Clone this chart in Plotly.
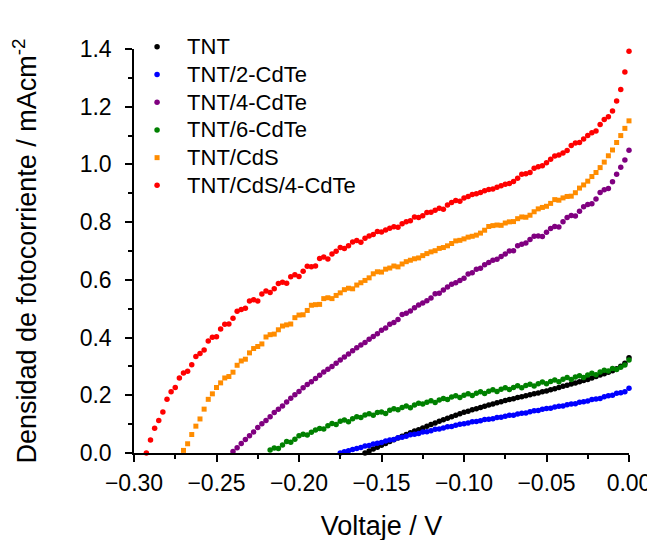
import plotly.graph_objects as go

V_STEP = 0.0025  # voltage sweep step (V); every series ends at 0.00 V

NAMES = ["TNT", "TNT/2-CdTe", "TNT/4-CdTe", "TNT/6-CdTe", "TNT/CdS", "TNT/CdS/4-CdTe"]
COLORS = ["#000000", "#0000FF", "#800080", "#008000", "#FF8C00", "#FF0000"]
SYMBOLS = ["circle", "circle", "circle", "circle", "square", "circle"]

tnt = [
    0.000, 0.007, 0.014, 0.020, 0.027, 0.033, 0.040, 0.046, 0.052, 0.058,
    0.064, 0.070, 0.076, 0.081, 0.087, 0.093, 0.099, 0.104, 0.110, 0.115,
    0.120, 0.126, 0.131, 0.136, 0.141, 0.145, 0.150, 0.153, 0.158, 0.162,
    0.166, 0.170, 0.174, 0.178, 0.182, 0.185, 0.188, 0.192, 0.195, 0.198,
    0.202, 0.205, 0.208, 0.212, 0.215, 0.219, 0.223, 0.227, 0.231, 0.235,
    0.239, 0.243, 0.247, 0.251, 0.255, 0.260, 0.265, 0.270, 0.275, 0.280,
    0.285, 0.292, 0.301, 0.311, 0.330,
]

tnt_2cdte = [
    0.000, 0.004, 0.008, 0.012, 0.016, 0.019, 0.024, 0.026, 0.031, 0.034,
    0.036, 0.042, 0.045, 0.047, 0.053, 0.055, 0.058, 0.063, 0.065, 0.068,
    0.073, 0.074, 0.077, 0.082, 0.083, 0.087, 0.091, 0.092, 0.096, 0.100,
    0.101, 0.104, 0.108, 0.109, 0.112, 0.116, 0.117, 0.119, 0.123, 0.124,
    0.127, 0.131, 0.131, 0.135, 0.138, 0.139, 0.143, 0.146, 0.147, 0.152,
    0.154, 0.155, 0.159, 0.162, 0.163, 0.167, 0.170, 0.171, 0.176, 0.178,
    0.180, 0.185, 0.187, 0.189, 0.195, 0.198, 0.200, 0.207, 0.209, 0.212,
    0.224,
]

tnt_4cdte = [
    0.005, 0.018, 0.033, 0.047, 0.060, 0.073, 0.088, 0.101, 0.113, 0.126,
    0.140, 0.152, 0.163, 0.177, 0.190, 0.202, 0.213, 0.226, 0.237, 0.247,
    0.258, 0.269, 0.281, 0.290, 0.300, 0.311, 0.322, 0.333, 0.343, 0.354,
    0.365, 0.374, 0.383, 0.394, 0.404, 0.413, 0.425, 0.433, 0.446, 0.452,
    0.463, 0.480, 0.484, 0.492, 0.503, 0.513, 0.520, 0.528, 0.537, 0.552,
    0.554, 0.565, 0.575, 0.585, 0.590, 0.598, 0.606, 0.620, 0.625, 0.637,
    0.640, 0.652, 0.660, 0.668, 0.671, 0.681, 0.690, 0.700, 0.701, 0.718,
    0.723, 0.728, 0.740, 0.751, 0.752, 0.750, 0.765, 0.778, 0.785, 0.783,
    0.801, 0.816, 0.823, 0.821, 0.838, 0.853, 0.861, 0.864, 0.880, 0.903,
    0.912, 0.917, 0.940, 0.966, 0.990, 1.015, 1.049,
]

tnt_6cdte = [
    0.010, 0.017, 0.016, 0.028, 0.040, 0.037, 0.048, 0.060, 0.065, 0.062,
    0.072, 0.080, 0.085, 0.083, 0.094, 0.102, 0.099, 0.110, 0.114, 0.108,
    0.119, 0.126, 0.123, 0.132, 0.136, 0.131, 0.140, 0.142, 0.137, 0.148,
    0.153, 0.150, 0.158, 0.163, 0.157, 0.166, 0.172, 0.170, 0.176, 0.181,
    0.175, 0.184, 0.189, 0.185, 0.194, 0.198, 0.192, 0.200, 0.205, 0.199,
    0.207, 0.212, 0.206, 0.214, 0.219, 0.213, 0.221, 0.226, 0.220, 0.227,
    0.233, 0.226, 0.234, 0.238, 0.232, 0.240, 0.246, 0.240, 0.248, 0.253,
    0.247, 0.256, 0.262, 0.255, 0.263, 0.268, 0.262, 0.270, 0.276, 0.271,
    0.281, 0.287, 0.284, 0.293, 0.289, 0.297, 0.305, 0.322,
]

tnt_cds = [
    0.009, 0.032, 0.064, 0.093, 0.118, 0.152, 0.186, 0.205, 0.227, 0.243,
    0.260, 0.265, 0.280, 0.304, 0.319, 0.325, 0.347, 0.362, 0.369, 0.378,
    0.402, 0.410, 0.412, 0.427, 0.440, 0.444, 0.447, 0.469, 0.478, 0.479,
    0.494, 0.512, 0.514, 0.515, 0.535, 0.538, 0.535, 0.546,
    0.555, 0.566, 0.571, 0.569, 0.582, 0.590, 0.598, 0.607, 0.621, 0.628,
    0.627, 0.637, 0.641, 0.648, 0.645, 0.655, 0.663, 0.668, 0.673, 0.676,
    0.684, 0.691, 0.697, 0.701, 0.709, 0.712, 0.718, 0.726, 0.735, 0.737,
    0.742, 0.748, 0.751, 0.755, 0.762, 0.772, 0.785, 0.788, 0.790, 0.789,
    0.797, 0.801, 0.802, 0.812, 0.818, 0.817, 0.824, 0.836, 0.846, 0.851,
    0.855, 0.865, 0.878, 0.876, 0.884, 0.889, 0.890, 0.902, 0.918, 0.929,
    0.942, 0.958, 0.972, 0.989, 1.008, 1.030, 1.050, 1.076, 1.100, 1.125,
    1.151,
]

tnt_cds_4cdte = [
    0.000, 0.045, 0.086, 0.113, 0.142, 0.186, 0.212, 0.227, 0.260, 0.277,
    0.283, 0.306, 0.334, 0.345, 0.357, 0.388, 0.401, 0.403, 0.430, 0.446,
    0.447, 0.467, 0.491, 0.497, 0.502, 0.527, 0.531, 0.527, 0.551, 0.561,
    0.556, 0.569, 0.587, 0.592, 0.588, 0.611, 0.618, 0.612, 0.630, 0.647,
    0.645, 0.648, 0.674, 0.679, 0.672,
    0.690, 0.699, 0.712, 0.709, 0.718, 0.731, 0.736, 0.730, 0.744, 0.752,
    0.757, 0.768, 0.766, 0.773, 0.779, 0.784, 0.782, 0.794, 0.801, 0.805,
    0.818, 0.816, 0.822, 0.833, 0.834, 0.841, 0.848, 0.845, 0.859, 0.868,
    0.875, 0.872, 0.884, 0.889, 0.896, 0.898, 0.903, 0.909, 0.913, 0.915,
    0.921, 0.926, 0.931, 0.934, 0.941, 0.952, 0.966, 0.968, 0.972, 0.987,
    0.992, 0.995, 1.006, 1.018, 1.029, 1.033, 1.040, 1.048, 1.066, 1.074,
    1.076, 1.088, 1.100, 1.110, 1.116, 1.138, 1.156, 1.165, 1.185, 1.220,
    1.260, 1.320, 1.392,
]

SERIES = [tnt, tnt_2cdte, tnt_4cdte, tnt_6cdte, tnt_cds, tnt_cds_4cdte]

X_TICKS = [-0.30, -0.25, -0.20, -0.15, -0.10, -0.05, 0.00]
Y_TICKS = [0.0, 0.2, 0.4, 0.6, 0.8, 1.0, 1.2, 1.4]

FONT = "Liberation Sans, Arial, sans-serif"

fig = go.Figure()
for name, ys, color, sym in zip(NAMES, SERIES, COLORS, SYMBOLS):
    n = len(ys)
    xs = [round(-V_STEP * (n - 1 - i), 4) for i in range(n)]
    fig.add_trace(go.Scatter(
        x=xs, y=ys, mode="markers",
        name='<span style="font-size:22px">' + name + "</span>",
        marker=dict(color=color, symbol=sym, size=5.5 if sym == "circle" else 5,
                    line=dict(width=0)),
        cliponaxis=False,
    ))

axis_common = dict(
    showgrid=False, zeroline=False, showline=True, linecolor="black", linewidth=1.5,
    ticks="outside", ticklen=7, tickwidth=1.5, tickcolor="black",
    tickfont=dict(family=FONT, size=23, color="black"),
    mirror=False,
)

fig.update_xaxes(
    range=[-0.30, 0.0], tickvals=X_TICKS, tickformat=".2f",
    minor=dict(ticks="outside", ticklen=4, tickwidth=1.5, tickcolor="black", dtick=0.025, tick0=0),
    title=dict(text="Voltaje / V", font=dict(family=FONT, size=27, color="black"), standoff=21),
    ticklabelstandoff=2,
    **axis_common,
)
fig.update_yaxes(
    range=[0, 1.4], tickvals=Y_TICKS, tickformat=".1f",
    minor=dict(ticks="outside", ticklen=4, tickwidth=1.5, tickcolor="black", dtick=0.1, tick0=0),
    title=dict(text="Densidad de fotocorriente / mAcm<sup>-2</sup>",
               font=dict(family=FONT, size=27, color="black"), standoff=40),
    ticklabelstandoff=9,
    **axis_common,
)

fig.update_layout(
    width=655, height=540,
    margin=dict(l=126, r=29, t=41, b=88),
    paper_bgcolor="white", plot_bgcolor="white",
    showlegend=True,
    legend=dict(
        x=-0.014, y=1.052, xanchor="left", yanchor="top",
        font=dict(family=FONT, size=19, color="black"),
        bgcolor="rgba(0,0,0,0)", borderwidth=0,
        itemsizing="trace", itemwidth=50, tracegroupgap=0,
    ),
)

fig.write_html("out.html")
